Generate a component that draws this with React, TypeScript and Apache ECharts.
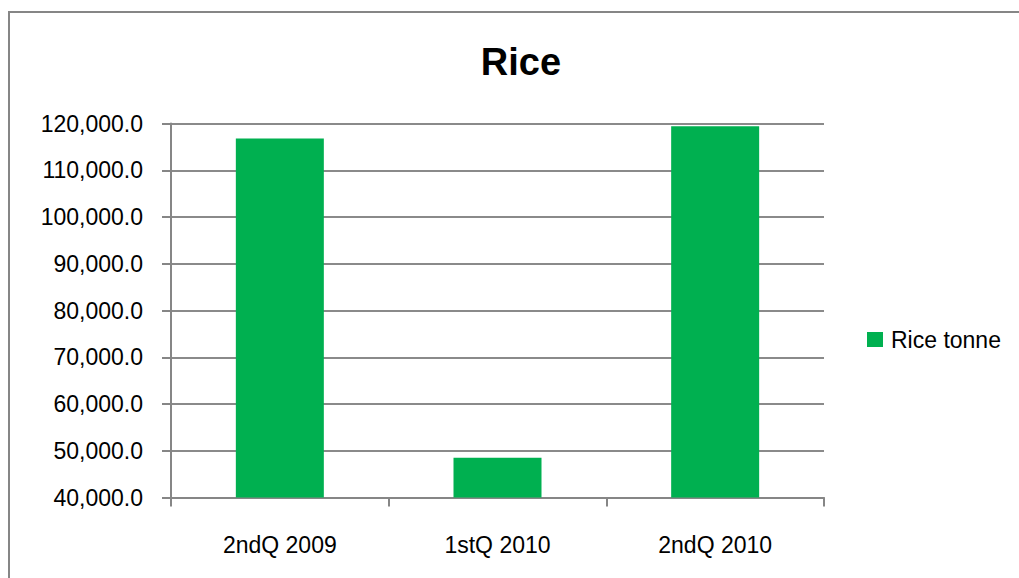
import React, { useEffect, useRef } from "react";
import * as echarts from "echarts";

const categories = ["2ndQ 2009", "1stQ 2010", "2ndQ 2010"];
const riceTonne = [116800, 48500, 119400];
const seriesName = "Rice tonne";
const titleText = "Rice";

const FONT = "'Liberation Sans', Arial, sans-serif";

export default function App() {
  const ref = useRef<HTMLDivElement>(null);
  useEffect(() => {
    document.body.style.margin = "0";
    const chart = echarts.init(ref.current!, null, { renderer: "svg" });
    chart.setOption({
      animation: false,
      backgroundColor: "#ffffff",
      textStyle: { fontFamily: FONT },
      title: {
        text: titleText,
        left: 516,
        top: 38,
        textAlign: "center",
        textStyle: { fontFamily: FONT, fontWeight: "bold", fontSize: 38, color: "#000" },
      },
      legend: {
        data: [seriesName],
        left: 867,
        top: 328,
        padding: 0,
        itemWidth: 16,
        itemHeight: 15,
        icon: "rect",
        textStyle: { fontFamily: FONT, fontSize: 23, color: "#000", padding: [0, 0, 0, 3] },
      },
      grid: { left: 171, right: 195, top: 123.5, bottom: 80.5, containLabel: false },
      xAxis: {
        type: "category",
        data: categories,
        axisLine: { lineStyle: { color: "#868686", width: 2 } },
        axisTick: { show: true, length: 9, lineStyle: { color: "#868686", width: 2 } },
        axisLabel: { color: "#000", fontFamily: FONT, fontSize: 23, margin: 36 },
      },
      yAxis: {
        type: "value",
        min: 40000,
        max: 120000,
        interval: 10000,
        axisLine: { show: true, lineStyle: { color: "#868686", width: 2 } },
        axisTick: { show: true, length: 9, lineStyle: { color: "#868686", width: 2 } },
        splitLine: { lineStyle: { color: "#8a8a8a", width: 2 } },
        axisLabel: {
          color: "#000",
          fontFamily: FONT,
          fontSize: 23,
          margin: 28,
          formatter: (v: number) =>
            v.toLocaleString("en-US", { minimumFractionDigits: 1, maximumFractionDigits: 1 }),
        },
      },
      series: [
        {
          name: seriesName,
          type: "bar",
          data: riceTonne,
          barWidth: 88,
          itemStyle: { color: "#00B050" },
        },
      ],
      graphic: [
        {
          type: "rect",
          shape: { x: 9, y: 12, width: 1100, height: 700 },
          style: { fill: "none", stroke: "#868686", lineWidth: 2 },
          silent: true,
        },
      ],
    });
    return () => chart.dispose();
  }, []);
  return <div ref={ref} style={{ width: 1019, height: 578 }} />;
}
